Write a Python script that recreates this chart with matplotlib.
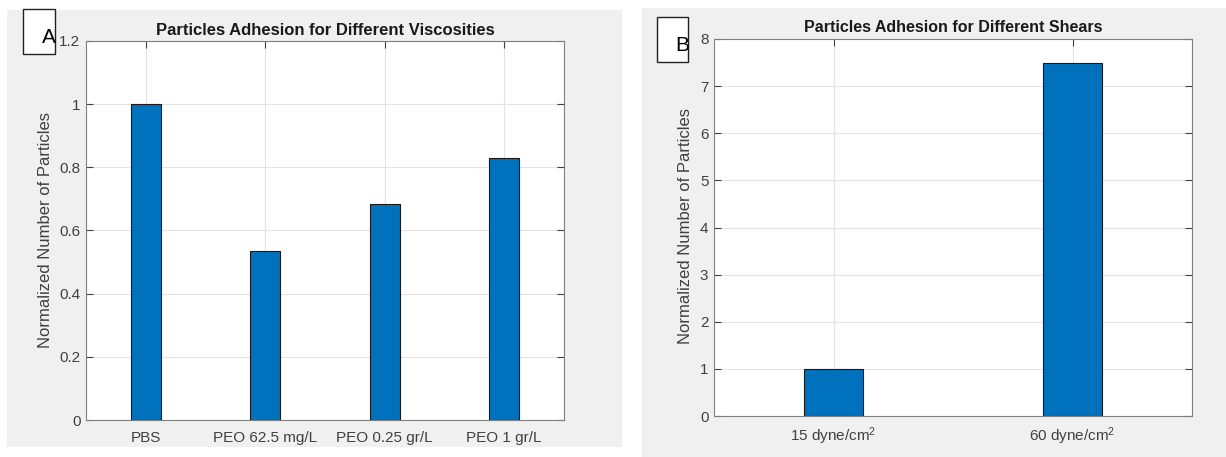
import numpy as np
import matplotlib
matplotlib.use('Agg')
import matplotlib.pyplot as plt
from matplotlib.patches import Rectangle

plt.rcParams['font.family'] = ['Liberation Sans', 'DejaVu Sans']
plt.rcParams['mathtext.fontset'] = 'custom'
plt.rcParams['mathtext.rm'] = 'Liberation Sans'
plt.rcParams['mathtext.it'] = 'Liberation Sans'

# panel A data
visc_labels = ['PBS', 'PEO 62.5 mg/L', 'PEO 0.25 gr/L', 'PEO 1 gr/L']
visc_values = [1.0, 0.535, 0.684, 0.83]

# panel B data
shear_labels = ['15 dyne/cm$^2$', '60 dyne/cm$^2$']
shear_values = [1.0, 7.5]

W, H = 1226, 457
fig = plt.figure(figsize=(W / 100, H / 100), dpi=100)
fig.patch.set_facecolor('white')


def px_rect(x0, y0, x1, y1):
    # pixel box (top-left origin) -> figure fraction [l, b, w, h]
    return [x0 / W, 1 - y1 / H, (x1 - x0) / W, (y1 - y0) / H]


# grey panel backgrounds
for x0, y0, x1, y1 in [(7, 10, 622, 447), (642, 8, 1226, 457)]:
    l, b, w, h = px_rect(x0, y0, x1, y1)
    fig.patches.append(Rectangle((l, b), w, h, transform=fig.transFigure,
                                 facecolor='#f0f0f0', edgecolor='none', zorder=-5))

BAR = '#0072bd'
SPINE = '#7f7f7f'
TXT = '#404040'


def style_axes(ax, ticksize):
    ax.set_facecolor('white')
    for s in ax.spines.values():
        s.set_color(SPINE)
        s.set_linewidth(0.8)
    ax.tick_params(direction='in', length=5, width=0.8, color='#404040',
                   top=True, right=True, labelsize=ticksize, labelcolor=TXT)
    ax.tick_params(axis='y', pad=4)
    ax.tick_params(axis='x', pad=8)
    ax.grid(True, color='#e3e3e3', linewidth=0.8)
    ax.set_axisbelow(True)


# ---- panel A
axA = fig.add_axes(px_rect(86, 41, 564, 420), zorder=1)
xa = np.arange(1, len(visc_values) + 1)
axA.bar(xa, visc_values, width=0.25, color=BAR, edgecolor='#1a1a1a', linewidth=0.8)
axA.set_xlim(0.5, len(visc_values) + 0.5)
axA.set_ylim(0, 1.2)
axA.set_xticks(xa)
axA.set_xticklabels(visc_labels)
axA.set_yticks(np.arange(0, 1.21, 0.2))
axA.set_yticklabels(['0', '0.2', '0.4', '0.6', '0.8', '1', '1.2'])
style_axes(axA, 11)
axA.set_title('Particles Adhesion for Different Viscosities', fontsize=12,
              fontweight='bold', color='#1a1a1a', pad=4)
fig.text(46 / W, 1 - 230 / H, 'Normalized Number of Particles', rotation=90,
         ha='center', va='center', fontsize=12, color=TXT)

# ---- panel B
axB = fig.add_axes(px_rect(714, 39, 1192, 416), zorder=1)
xb = np.arange(1, len(shear_values) + 1)
axB.bar(xb, shear_values, width=0.25, color=BAR, edgecolor='#1a1a1a', linewidth=0.8)
axB.set_xlim(0.5, len(shear_values) + 0.5)
axB.set_ylim(0, 8)
axB.set_xticks(xb)
axB.set_xticklabels(shear_labels)
axB.set_yticks(np.arange(0, 9, 1))
style_axes(axB, 11)
axB.tick_params(axis='x', pad=7)
axB.set_title('Particles Adhesion for Different Shears', fontsize=11.5,
              fontweight='bold', color='#1a1a1a', pad=5)
fig.text(686 / W, 1 - 226 / H, 'Normalized Number of Particles', rotation=90,
         ha='center', va='center', fontsize=12, color=TXT)

# panel letters in boxes
for (x0, y0, x1, y1), letter in [((23, 9, 55, 54), 'A'), ((657, 17, 688, 62), 'B')]:
    l, b, w, h = px_rect(x0, y0, x1, y1)
    fig.patches.append(Rectangle((l, b), w, h, transform=fig.transFigure,
                                 facecolor='white', edgecolor='#222222',
                                 linewidth=1.0, zorder=5))
    fig.text((x1 + 1) / W, 1 - (y0 + 34) / H, letter, ha='right', va='baseline',
             fontsize=15, color='black', zorder=6)

fig.savefig('out.png', dpi=100)
